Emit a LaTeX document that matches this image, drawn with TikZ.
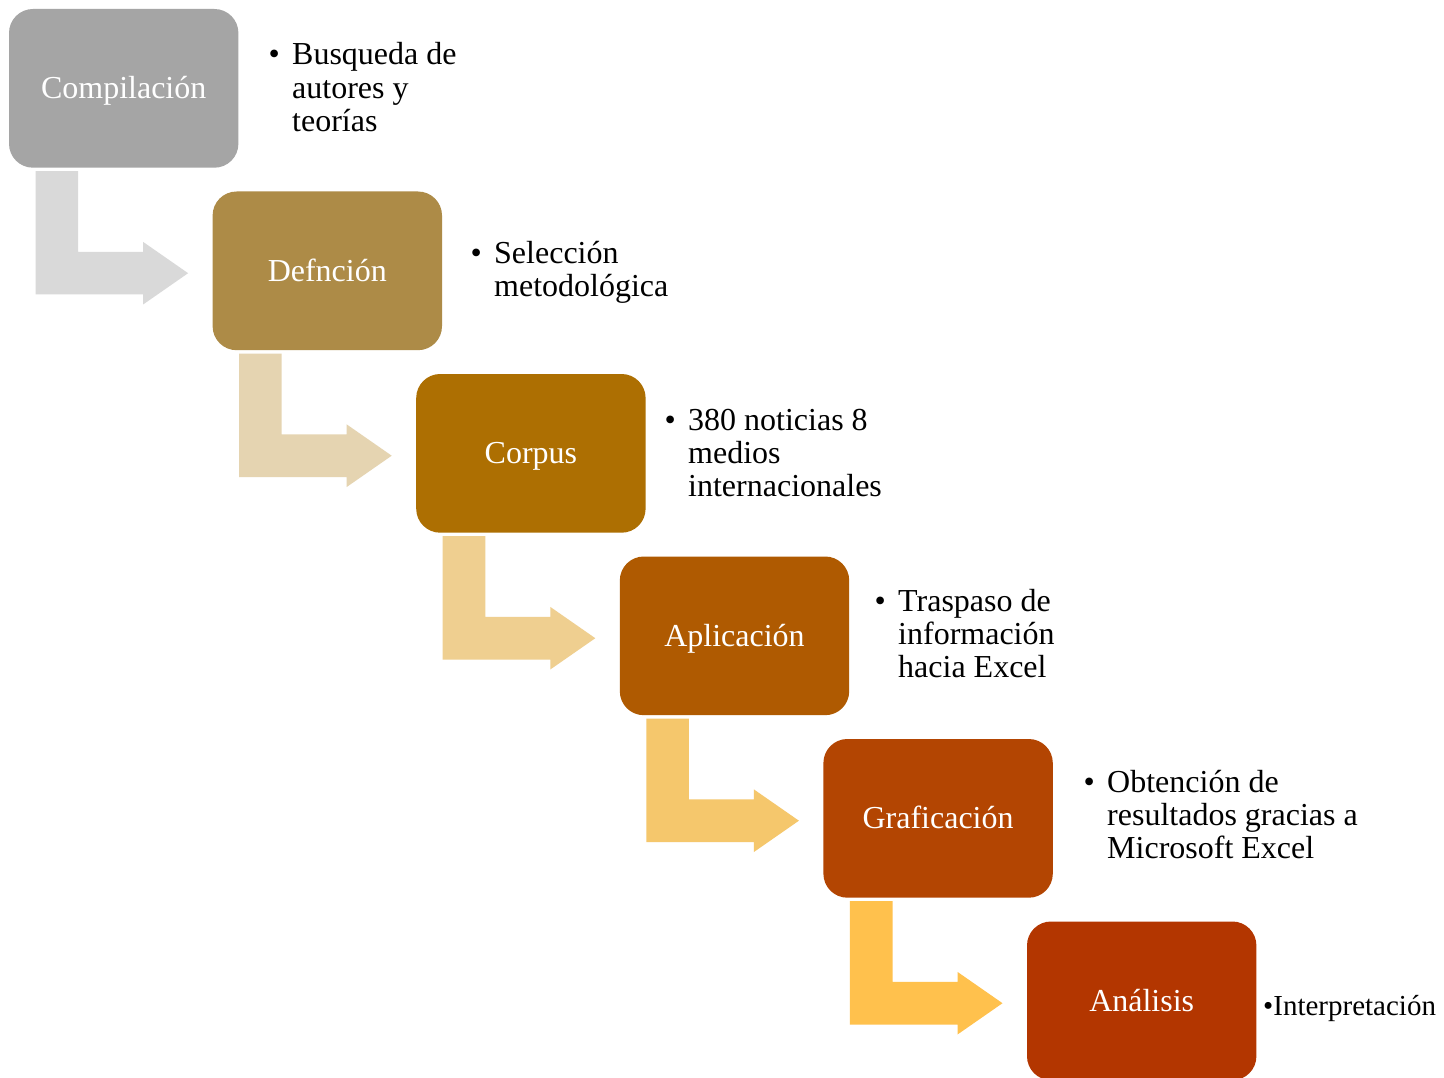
\documentclass[tikz,border=0pt]{standalone}
\usepackage{fontspec}
\setmainfont{Liberation Serif}
\usetikzlibrary{calc}
\definecolor{c1}{HTML}{A5A5A5}
\definecolor{c2}{HTML}{AD8B47}
\definecolor{c3}{HTML}{AD6F02}
\definecolor{c4}{HTML}{AF5A01}
\definecolor{c5}{HTML}{B34502}
\definecolor{c6}{HTML}{B33600}
\definecolor{a1}{HTML}{D9D9D9}
\definecolor{a2}{HTML}{E5D4B1}
\definecolor{a3}{HTML}{EFCF90}
\definecolor{a4}{HTML}{F5C76C}
\definecolor{a5}{HTML}{FFC14D}
\newcommand{\mybul}{\makebox[23.5pt][l]{\textbullet}}
\begin{document}
\begin{tikzpicture}[x=1pt,y=-1pt,
  stepbox/.style={rectangle, rounded corners=24pt, minimum width=229.4pt, minimum height=158.7pt,
    inner sep=0pt, text=white, font=\fontsize{32}{33.3}\selectfont, text height=22pt, text depth=1.4pt},
  desc/.style={anchor=base west, inner sep=0pt, font=\fontsize{32}{33.3}\selectfont, text=black}]
\useasboundingbox (0,0) rectangle (1444,1078);
\fill[white] (0,0) rectangle (1444,1078);

\node[stepbox, fill=c1] (b1) at (123.7,88.35) {Compilación};
\node[stepbox, fill=c2] (b2) at (327.3,270.85) {Defnción};
\node[stepbox, fill=c3] (b3) at (530.9,453.35) {Corpus};
\node[stepbox, fill=c4] (b4) at (734.5,635.85) {Aplicación};
\node[stepbox, fill=c5] (b5) at (938.1,818.35) {Graficación};
\node[stepbox, fill=c6] (b6) at (1141.7,1000.85) {Análisis};

\foreach \src/\col in {b1/a1, b2/a2, b3/a3, b4/a4, b5/a5}{
  \begin{scope}[shift={(\src.south west)}]
    \fill[\col] (26.7,3.3) -- (69.3,3.3) -- (69.3,84) -- (134.3,84) -- (134.3,74)
      -- (179.3,105.3) -- (134.3,136.6) -- (134.3,126.6) -- (26.7,126.6) -- cycle;
  \end{scope}
}

\node[desc] (t1) at (268.5,65) {\mybul\begin{tabular}[t]{@{}l@{}}Busqueda de\\autores y\\teorías\end{tabular}};
\node[desc] (t2) at (470.5,263.5) {\mybul\begin{tabular}[t]{@{}l@{}}Selección\\metodológica\end{tabular}};
\node[desc] (t3) at (664.5,430) {\mybul\begin{tabular}[t]{@{}l@{}}380 noticias 8\\medios\\internacionales\end{tabular}};
\node[desc] (t4) at (874.5,611) {\mybul\begin{tabular}[t]{@{}l@{}}Traspaso de\\información\\hacia Excel\end{tabular}};
\node[desc] (t5) at (1083.5,792) {\mybul\begin{tabular}[t]{@{}l@{}}Obtención de\\resultados gracias a\\Microsoft Excel\end{tabular}};
\node[desc, font=\fontsize{29}{31}\selectfont] (t6) at (1263,1015) {\textbullet Interpretación};
\end{tikzpicture}
\end{document}
